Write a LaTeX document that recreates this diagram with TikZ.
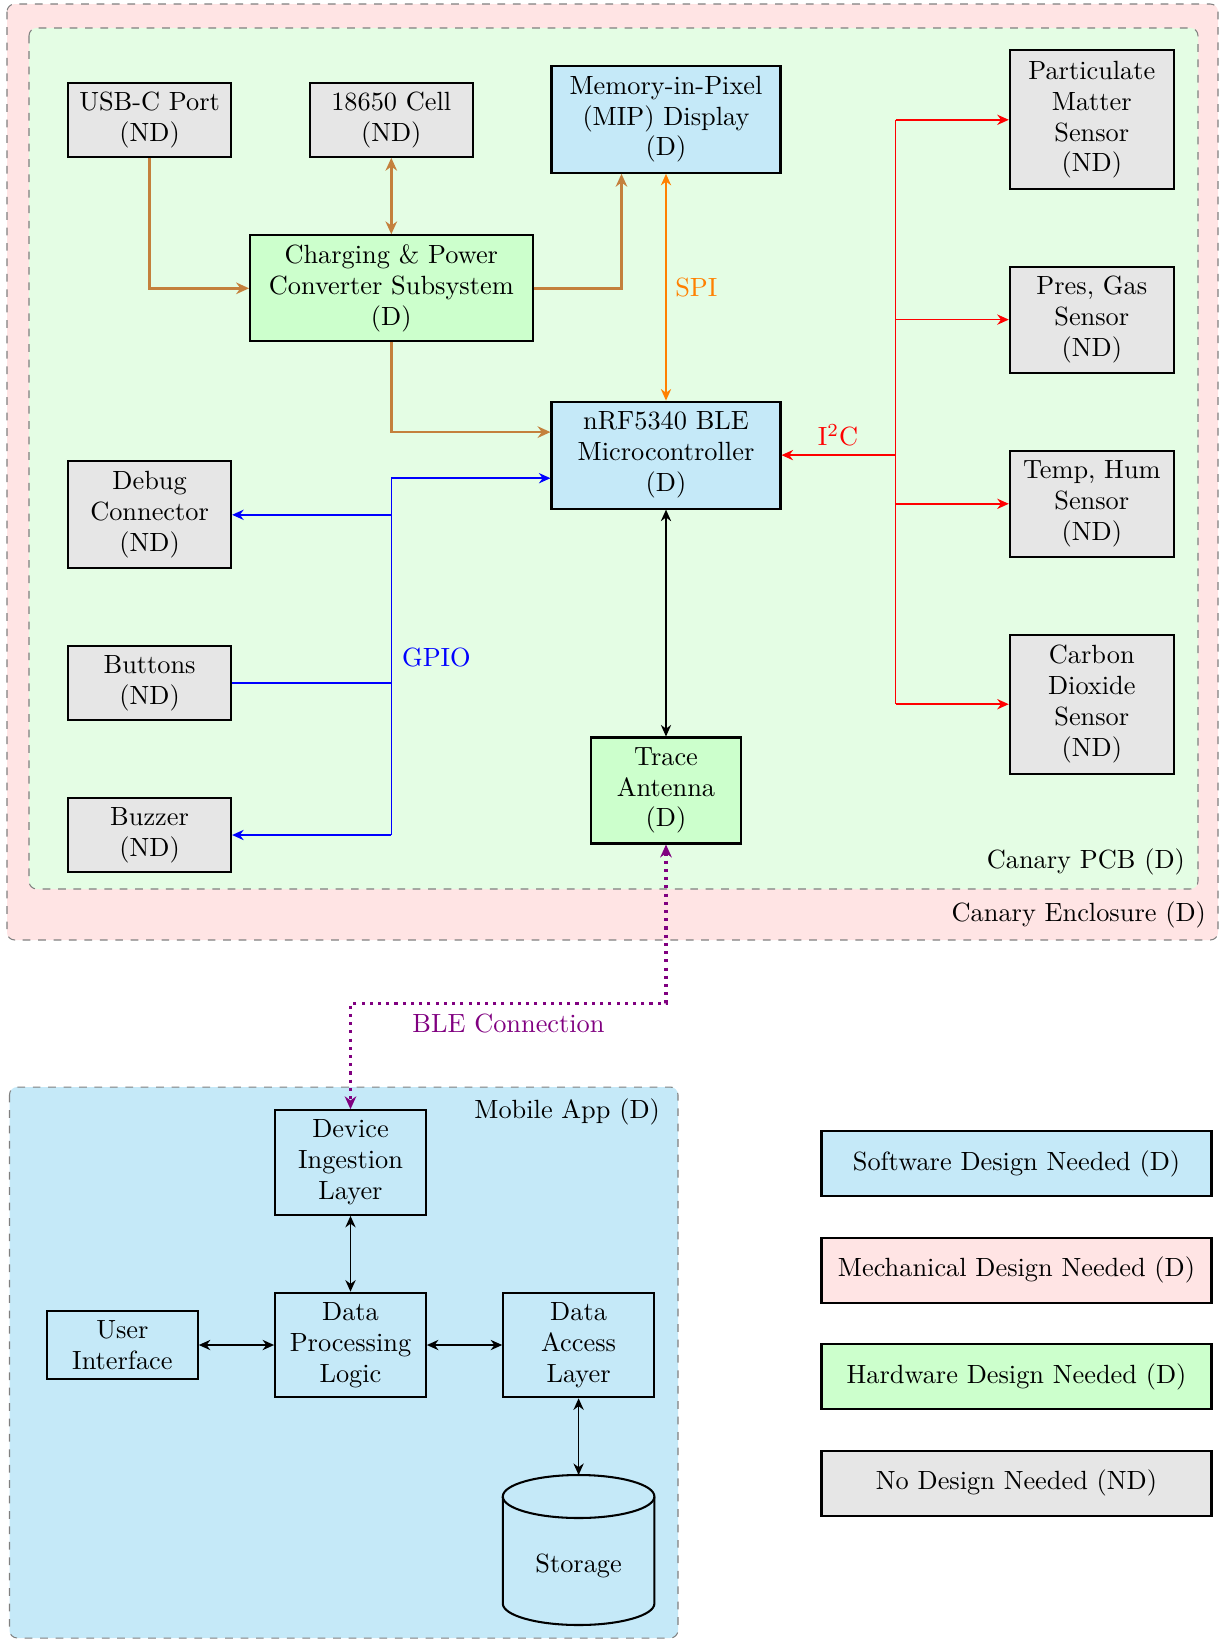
\documentclass[tikz,border=0pt]{standalone}
\usetikzlibrary{arrows.meta,calc}
\newcommand\pxunit{0.3891pt}
\definecolor{swblue}{RGB}{197,233,248}
\definecolor{ndgray}{RGB}{230,230,230}
\definecolor{hwgreen}{RGB}{204,255,204}
\definecolor{pcbgreen}{RGB}{228,253,228}
\definecolor{mechpink}{RGB}{255,228,228}
\definecolor{pwrbrown}{RGB}{196,128,60}
\tikzset{
  box/.style={draw=black, thick, align=center, inner sep=2pt},
  ndbox/.style={box, fill=ndgray},
  swbox/.style={box, fill=swblue},
  hwbox/.style={box, fill=hwgreen},
  mebox/.style={box, fill=mechpink},
  sz/.style 2 args={minimum width=#1*\pxunit, minimum height=#2*\pxunit},
  cont/.style={draw=gray, dashed, rounded corners=3pt},
  pwr/.style={draw=pwrbrown, line width=1pt, -{Stealth[length=5pt,width=4.5pt]}},
  pwrboth/.style={draw=pwrbrown, line width=1pt, {Stealth[length=5pt,width=4.5pt]}-{Stealth[length=5pt,width=4.5pt]}},
  spiline/.style={draw=orange, semithick, {Stealth[length=4.5pt,width=4pt]}-{Stealth[length=4.5pt,width=4pt]}},
  i2cline/.style={draw=red, semithick, -{Stealth[length=4.5pt,width=4pt]}},
  gpioline/.style={draw=blue, semithick, -{Stealth[length=4.5pt,width=4pt]}},
  blkboth/.style={draw=black, semithick, {Stealth[length=4.5pt,width=4pt]}-{Stealth[length=4.5pt,width=4pt]}},
  bleline/.style={draw=violet, very thick, dotted, {Stealth[length=5pt,width=4.5pt]}-{Stealth[length=5pt,width=4.5pt]}},
}
\begin{document}
\begin{tikzpicture}[x=0.3891pt,y=-0.3891pt, every node/.style={font=\fontsize{10.25pt}{12pt}\selectfont}]
\useasboundingbox (0,0) rectangle (1220,1640);

% containers
\draw[cont, fill=mechpink] (7,4) rectangle (1218,940);
\draw[cont, fill=pcbgreen] (29,28) rectangle (1198,889);
\draw[cont, fill=swblue] (9.5,1087) rectangle (678,1638);
\node[anchor=east] (enclab) at (1215,915) {Canary Enclosure (D)};
\node[anchor=east] (pcblab) at (1194,862) {Canary PCB (D)};
\node[anchor=east] (applab) at (669,1112) {Mobile App (D)};

% PCB nodes
\node[ndbox, sz={163}{74}] (usb) at (149.6,119.8) {USB-C Port\\(ND)};
\node[ndbox, sz={163}{74}] (cell) at (391.3,119.8) {18650 Cell\\(ND)};
\node[swbox, sz={229}{107}] (mip) at (666,119.3) {Memory-in-Pixel\\(MIP) Display\\(D)};
\node[ndbox, sz={164}{139}] (pm) at (1091.8,119.8) {Particulate\\Matter\\Sensor\\(ND)};
\node[hwbox, sz={282.5}{106}] (chg) at (391.3,288.3) {Charging \& Power\\Converter Subsystem\\(D)};
\node[ndbox, sz={164}{106}] (pres) at (1091.8,319.6) {Pres, Gas\\Sensor\\(ND)};
\node[swbox, sz={229}{107}] (mcu) at (666,455.1) {nRF5340 BLE\\Microcontroller\\(D)};
\node[ndbox, sz={164}{106}] (temp) at (1091.8,503.8) {Temp, Hum\\Sensor\\(ND)};
\node[ndbox, sz={163}{107}] (dbg) at (149.6,514.8) {Debug\\Connector\\(ND)};
\node[ndbox, sz={163}{74}] (btn) at (149.6,683.2) {Buttons\\(ND)};
\node[ndbox, sz={163}{74}] (buz) at (149.6,835) {Buzzer\\(ND)};
\node[hwbox, sz={149.6}{106}] (ant) at (666,790.5) {Trace\\Antenna\\(D)};
\node[ndbox, sz={164}{139}] (co2) at (1091.8,704.2) {Carbon\\Dioxide\\Sensor\\(ND)};

% power connectors
\draw[pwr] (usb.south) |- (chg.west);
\draw[pwrboth] (cell.south) -- (chg.north);
\draw[pwr] (chg.east) -| ($(mip.south)+(-44.5,0)$);
\draw[pwr] (chg.south) |- ($(mcu.west)+(0,-23)$);

% SPI
\draw[spiline] (mip.south) -- (mcu.north) node[midway, right, text=orange] (spilab) {SPI};

% MCU - antenna
\draw[blkboth] (mcu.south) -- (ant.north);

% I2C bus
\coordinate (ibus) at (895.6,455.1);
\coordinate (itop) at (895.6,119.8);
\coordinate (ibot) at (895.6,704.2);
\draw[red, semithick] (itop) -- (ibot);
\draw[i2cline] (ibus) -- (mcu.east);
\node[text=red] (i2clab) at (838,435.3) {I\textsuperscript{2}C};
\draw[i2cline] (pm.west -| ibus) -- (pm.west);
\draw[i2cline] (pres.west -| ibus) -- (pres.west);
\draw[i2cline] (temp.west -| ibus) -- (temp.west);
\draw[i2cline] (co2.west -| ibus) -- (co2.west);

% GPIO bus
\coordinate (gtop) at (391.3,478.2);
\coordinate (gbot) at (391.3,835);
\draw[blue, semithick] (gtop) -- (gbot);
\draw[gpioline] (gtop) -- (mcu.west |- gtop);
\draw[gpioline] (dbg.east -| gtop) -- (dbg.east);
\draw[blue, semithick] (btn.east) -- (btn.east -| gtop);
\draw[gpioline] (gbot) -- (buz.east);
\node[text=blue, anchor=west] (gpiolab) at (393,657) {GPIO};

% Mobile app nodes
\node[swbox, sz={150.7}{104.6}] (dev) at (350.5,1162.5) {Device\\Ingestion\\Layer};
\node[swbox, sz={150.7}{68}] (ui) at (122.4,1345) {User\\Interface};
\node[swbox, sz={150.7}{104.6}] (dpl) at (350.5,1345) {Data\\Processing\\Logic};
\node[swbox, sz={150.7}{104.6}] (dal) at (578.6,1345) {Data\\Access\\Layer};

% storage cylinder
\coordinate (stortop) at (578.6,1475);
\draw[thick, fill=swblue] (502.8,1496.5) -- (502.8,1603.5)
  arc[start angle=180, end angle=0, x radius=75.8, y radius=21.5]
  -- (654.4,1496.5)
  arc[start angle=0, end angle=-180, x radius=75.8, y radius=21.5] -- cycle;
\draw[thick] (654.4,1496.5) arc[start angle=0, end angle=180, x radius=75.8, y radius=21.5];
\node (stor) at (578.6,1566) {Storage};

\draw[blkboth] (dev.south) -- (dpl.north);
\draw[blkboth] (ui.east) -- (dpl.west);
\draw[blkboth] (dpl.east) -- (dal.west);
\draw[blkboth] (dal.south) -- (stortop);

% BLE
\coordinate (bleturn) at (350.5,1003.4);
\draw[bleline] (ant.south) |- (bleturn) -- (dev.north);
\node[text=violet] (blelab) at (508.5,1023.3) {BLE Connection};

% legend
\node[swbox, sz={390}{65}] (leg1) at (1016.5,1163.5) {Software Design Needed (D)};
\node[mebox, sz={390}{65}] (leg2) at (1016.5,1270.2) {Mechanical Design Needed (D)};
\node[hwbox, sz={390}{65}] (leg3) at (1016.5,1376.4) {Hardware Design Needed (D)};
\node[ndbox, sz={390}{65}] (leg4) at (1016.5,1483.1) {No Design Needed (ND)};
\end{tikzpicture}
\end{document}
